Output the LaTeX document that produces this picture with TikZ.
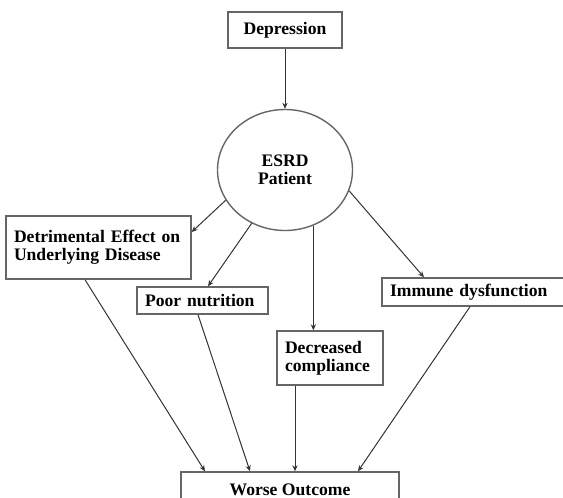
\documentclass[tikz,border=0pt]{standalone}
\usepackage{fontspec}
\setmainfont{Liberation Serif}
\usetikzlibrary{arrows.meta,shapes.geometric,calc}

\begin{document}
\begin{tikzpicture}[x=0.5pt,y=-0.5pt,font=\fontsize{8.8}{9}\selectfont\bfseries,
    >={Stealth[length=3pt,width=2.6pt]},
    box/.style={draw=black!60,line width=0.7pt,fill=white,inner xsep=4pt,inner ysep=0pt,align=left},
    oval/.style={draw=black!60,line width=0.7pt,fill=white,ellipse,inner sep=0pt,
                 minimum width=67.5pt,minimum height=60.5pt,align=center},
    ar/.style={->,black!80,line width=0.5pt}]
  \useasboundingbox (0,0) rectangle (563,498);
  \clip (0,0) rectangle (563,498);
  % nodes
  \node[box,align=center,minimum width=57pt,minimum height=18pt] (dep) at (285,30) {Depression};
  \node[oval] (esrd) at (285,170) {ESRD\\Patient};
  \node[box,text width=84.5pt,minimum height=31.5pt] (det) at (98.5,247.5) {Detrimental Effect on\\Underlying Disease};
  \node[box,text width=57.5pt,minimum height=13.5pt] (poor) at (202.5,300.5) {Poor nutrition};
  \node[box,text width=45pt,minimum height=27pt] (dec) at (330,358) {Decreased\\compliance};
  \node[box,text width=86pt,minimum height=14pt] (imm) at (476,292) {Immune dysfunction};
  \node[box,align=center,minimum width=109pt,minimum height=18pt] (wo) at (290,490) {Worse Outcome};
  % arrows
  \draw[ar] (dep) -- (esrd);
  \draw[ar] (esrd.207) -- ([yshift=7.75pt]det.east);
  \draw[ar] (esrd.238) -- ([xshift=2.75pt]poor.north);
  \draw[ar] (esrd.297) -- (esrd.297 |- dec.north);
  \draw[ar] (esrd.342) -- ([xshift=-26pt]imm.north);
  \draw[ar] ([xshift=-6.75pt]det.south) -- ([xshift=-42.5pt]wo.north);
  \draw[ar] ([xshift=-2.25pt]poor.south) -- ([xshift=-20pt]wo.north);
  \draw[ar] ([xshift=-17.5pt]dec.south) -- ([xshift=-17.5pt]dec.south |- wo.north);
  \draw[ar] ([xshift=-3pt]imm.south) -- ([xshift=34pt]wo.north);
\end{tikzpicture}
\end{document}
